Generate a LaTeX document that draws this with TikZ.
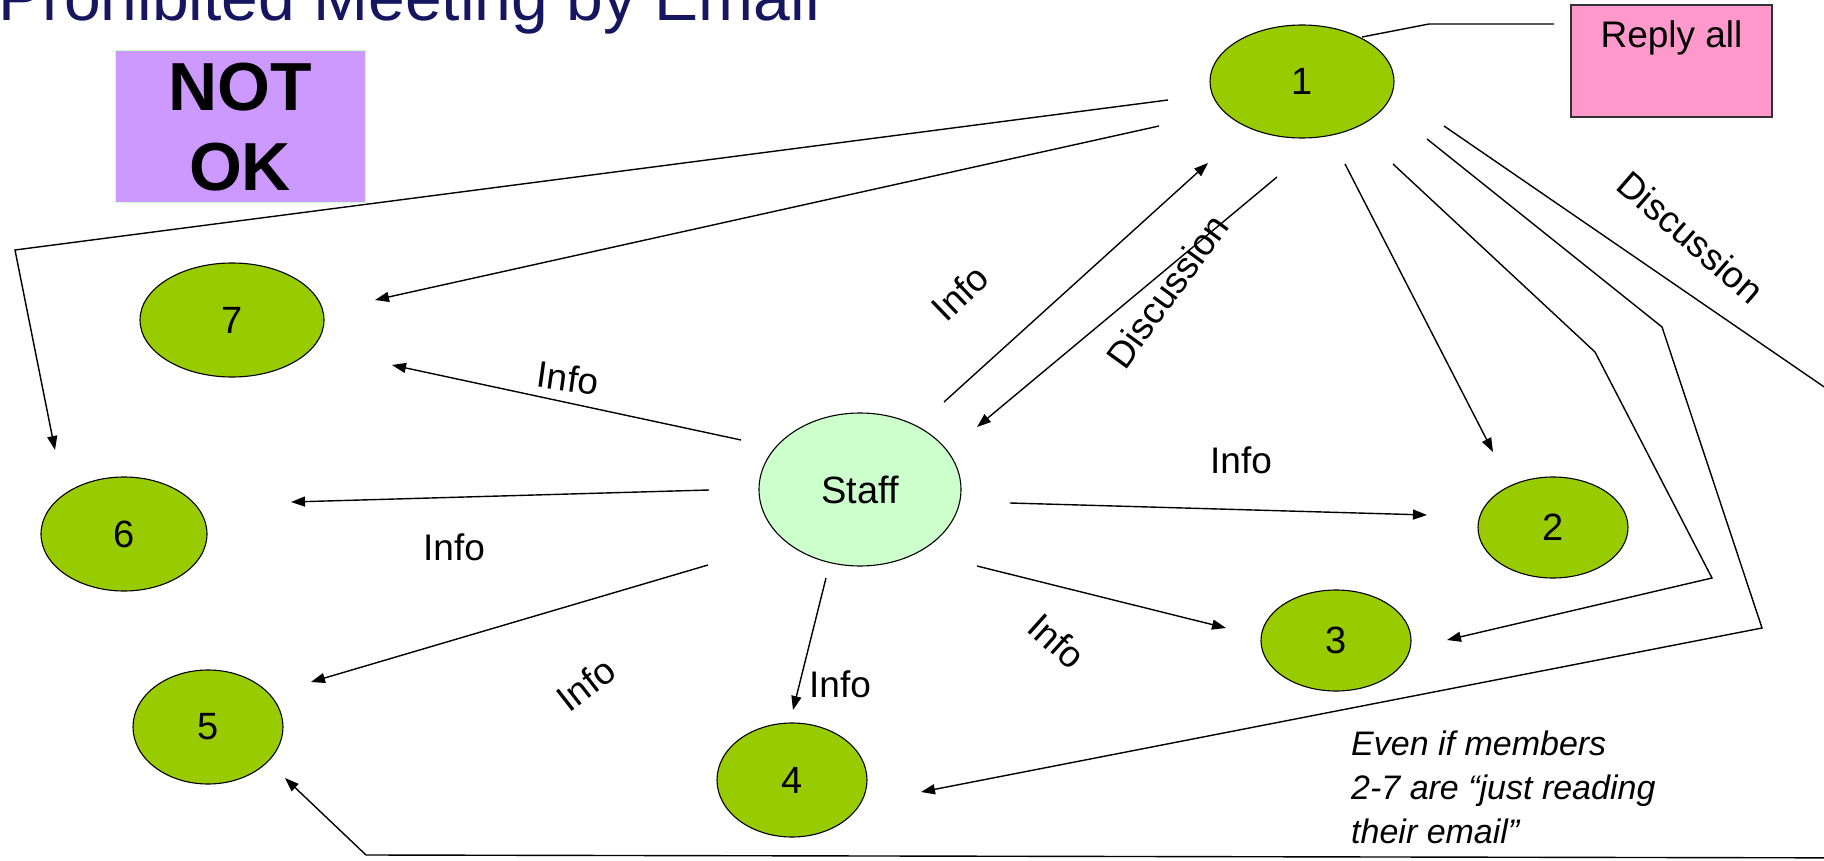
\documentclass[tikz,border=0pt]{standalone}
\usepackage{fontspec}
\setmainfont{Liberation Sans}
\usetikzlibrary{shapes.geometric,arrows.meta}

\definecolor{memberfill}{HTML}{99CC00}
\definecolor{stafffill}{HTML}{CCFFCC}
\definecolor{lilac}{HTML}{CC99FF}
\definecolor{pinkbox}{HTML}{FF99CC}
\definecolor{titlenavy}{HTML}{161660}

\tikzset{
  member/.style={ellipse, draw=black, line width=1.1pt, fill=memberfill,
    inner sep=0pt, outer sep=0pt, font=\fontsize{38}{46}\selectfont},
  staffnode/.style={member, fill=stafffill},
  link/.style={line width=1.4pt, line join=miter},
  arr/.style={link, -{Triangle[length=14pt,width=10pt]}},
  lbl/.style={inner sep=0pt, font=\fontsize{37}{44}\selectfont},
  notetext/.style={inner sep=0pt, anchor=base west, font=\fontsize{34}{44}\selectfont\itshape},
}

\begin{document}
\begin{tikzpicture}[x=1pt, y=-1pt]
  \useasboundingbox (0,0) rectangle (1824,861);
  \clip (0,0) rectangle (1824,861);

  % heading, partly cut by the top edge
  \node[inner sep=0pt, anchor=base west, text=titlenavy,
        font=\fontsize{66}{78}\selectfont] (title) at (-2,21)
        {Prohibited Meeting by Email};

  % verdict box
  \node[draw=stafffill, line width=1pt, fill=lilac, minimum width=250pt,
        minimum height=152pt, inner sep=0pt, align=center,
        font=\fontsize{68}{80}\selectfont\bfseries] (notok) at (240,127)
        {NOT\\OK};

  % reply-all callout
  \node[draw=black!80, line width=1.1pt, fill=pinkbox, minimum width=201pt,
        minimum height=112pt, inner sep=0pt] (reply) at (1671.5,61) {};
  \node[lbl, anchor=base] (replytxt) at ([yshift=-43pt]reply.north) {Reply all};

  % members and staff
  \node[member, minimum width=184pt, minimum height=113pt] (n1) at (1302,81.5) {1};
  \node[member, minimum width=150pt, minimum height=101pt] (n2) at (1553,527.5) {2};
  \node[member, minimum width=150pt, minimum height=101pt] (n3) at (1336,640.5) {3};
  \node[member, minimum width=150pt, minimum height=114pt] (n4) at (792,780) {4};
  \node[member, minimum width=150pt, minimum height=114pt] (n5) at (208,727) {5};
  \node[member, minimum width=166pt, minimum height=114pt] (n6) at (124,534) {6};
  \node[member, minimum width=184pt, minimum height=114pt] (n7) at (232,320) {7};
  \node[staffnode, minimum width=202pt, minimum height=153pt] (staff) at (860,489.5) {Staff};

  % bend points of the reply-all routes
  \coordinate (r6a) at (15,250);
  \coordinate (r3a) at (1595,352);
  \coordinate (r3b) at (1712,578);
  \coordinate (r4a) at (1662,327);
  \coordinate (r4b) at (1762,628);
  \coordinate (r5a) at (1900,439);
  \coordinate (r5b) at (1900,858);
  \coordinate (r5c) at (366,855);

  % callout leader
  \draw[link] ([shift={(-117.5,-37)}]reply.center) -- ([shift={(127,-57.5)}]n1.center)
              -- ([shift={(60,-44.5)}]n1.center);

  % member 1 replies to all
  \draw[arr] ([shift={(-134,18.5)}]n1.center) -- (r6a) -- ([shift={(-69,-84)}]n6.center);
  \draw[arr] ([shift={(-143,44.5)}]n1.center) -- ([shift={(143,-20)}]n7.center);
  \draw[arr] ([shift={(43,82.5)}]n1.center) -- ([shift={(-60,-75.5)}]n2.center);
  \draw[arr] ([shift={(91,82.5)}]n1.center) -- (r3a) -- (r3b) -- ([shift={(111,-0.5)}]n3.center);
  \draw[arr] ([shift={(125,57.5)}]n1.center) -- (r4a) -- (r4b) -- ([shift={(129,12)}]n4.center);
  \draw[arr] ([shift={(142,44.5)}]n1.center) -- (r5a) -- (r5b) -- (r5c) -- ([shift={(77,51)}]n5.center);

  % staff and member 1
  \draw[arr] ([shift={(84,-87.5)}]staff.center) -- ([shift={(-94,81.5)}]n1.center);
  \draw[arr] ([shift={(-25,95.5)}]n1.center) -- ([shift={(117,-62.5)}]staff.center);

  % staff informs everyone
  \draw[arr] ([shift={(-119,-49.5)}]staff.center) -- ([shift={(160,45)}]n7.center);
  \draw[arr] ([shift={(-151,0.5)}]staff.center) -- ([shift={(167,-32)}]n6.center);
  \draw[arr] ([shift={(-152,75.5)}]staff.center) -- ([shift={(103,-45)}]n5.center);
  \draw[arr] ([shift={(-34,88.5)}]staff.center) -- ([shift={(1,-70)}]n4.center);
  \draw[arr] ([shift={(150,13.5)}]staff.center) -- ([shift={(-126,-12.5)}]n2.center);
  \draw[arr] ([shift={(117,76.5)}]staff.center) -- ([shift={(-110,-12.5)}]n3.center);

  % connector labels
  \node[lbl, rotate=44] (lup) at (960,293) {Info};
  \node[lbl, rotate=54] (ldown) at (1167,291) {Discussion};
  \node[lbl, rotate=-41] (lall) at (1691,237) {Discussion};
  \node[lbl, rotate=-8] (l7) at (568,378) {Info};
  \node[lbl] (l6) at (454,547) {Info};
  \node[lbl, rotate=38] (l5) at (586,684) {Info};
  \node[lbl] (l4) at (840,684) {Info};
  \node[lbl] (l2) at (1241,460) {Info};
  \node[lbl, rotate=-42] (l3) at (1057,641) {Info};

  % remark
  \node[notetext] (note1) at (1351,755) {Even if members};
  \node[notetext] (note2) at (1351,799) {2-7 are “just reading};
  \node[notetext] (note3) at (1351,843) {their email”};
\end{tikzpicture}
\end{document}
